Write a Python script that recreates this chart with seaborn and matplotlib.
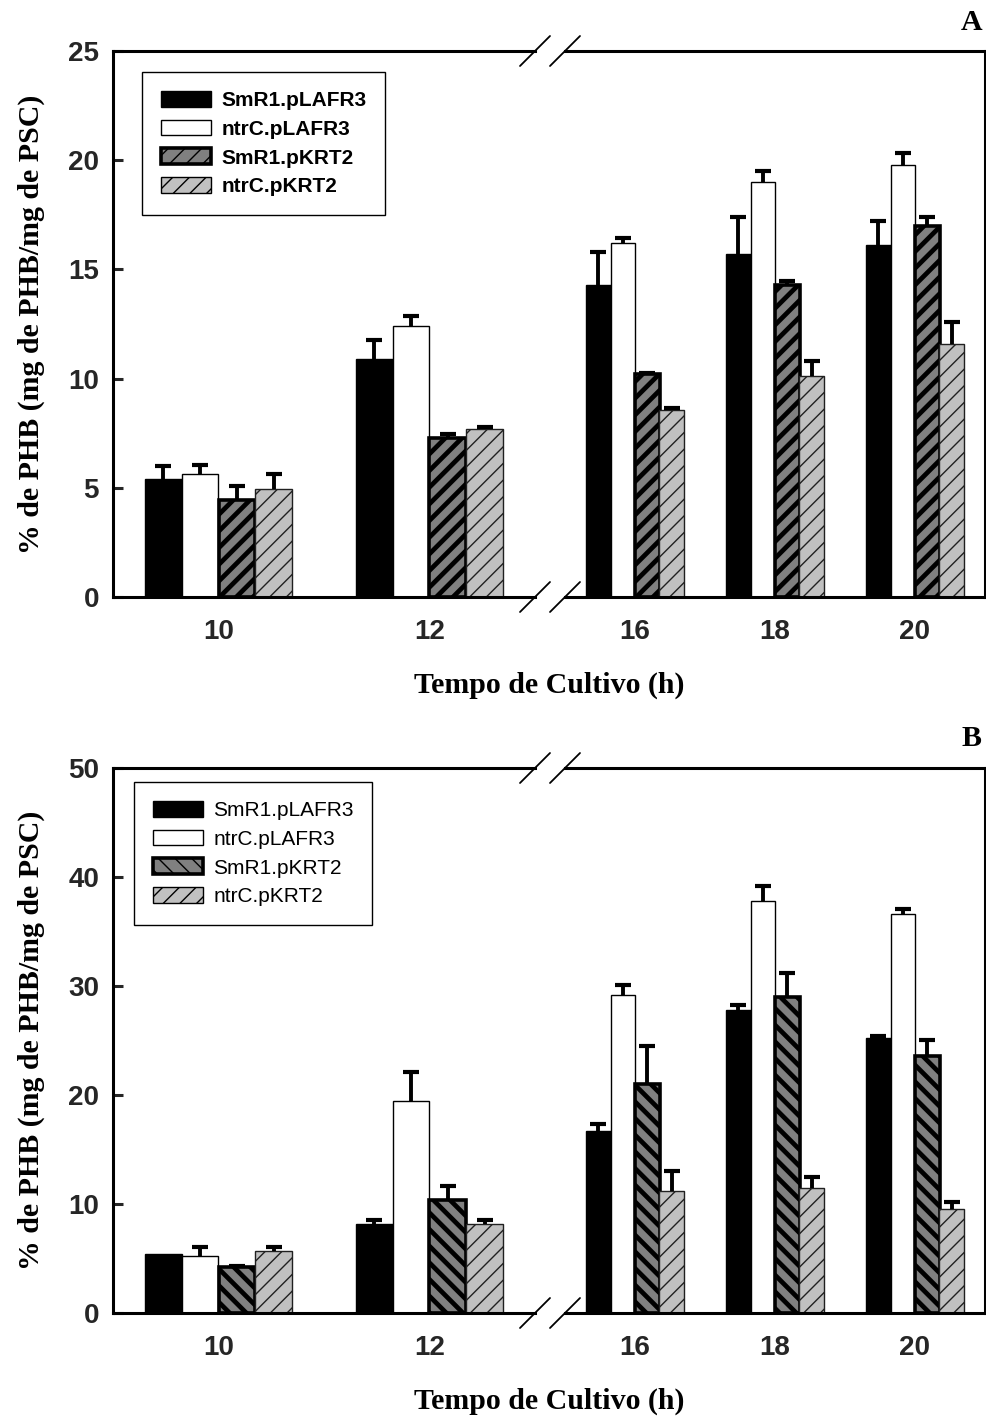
import numpy as np
import pandas as pd
import matplotlib
matplotlib.use("Agg")
import matplotlib.pyplot as plt
import seaborn as sns
from matplotlib.patches import Patch
from matplotlib.colors import to_rgba

sns.set_theme(style="white")
plt.rcParams['font.family'] = ['Liberation Sans', 'DejaVu Sans']
plt.rcParams['font.weight'] = 'bold'

# ---------------- data ----------------
times = [10, 12, 16, 18, 20]
left_times = [10, 12]
right_times = [16, 18, 20]
strains = ["SmR1.pLAFR3", "ntrC.pLAFR3", "SmR1.pKRT2", "ntrC.pKRT2"]

# Panel A
smr1_plafr3_A = [5.4, 10.9, 14.3, 15.7, 16.1]
ntrc_plafr3_A = [5.65, 12.4, 16.2, 19.0, 19.8]
smr1_pkrt2_A = [4.45, 7.3, 10.2, 14.3, 17.0]
ntrc_pkrt2_A = [4.95, 7.7, 8.55, 10.1, 11.6]
smr1_plafr3_A_err = [0.6, 0.85, 1.5, 1.7, 1.1]
ntrc_plafr3_A_err = [0.4, 0.45, 0.25, 0.5, 0.55]
smr1_pkrt2_A_err = [0.65, 0.15, 0.05, 0.15, 0.4]
ntrc_pkrt2_A_err = [0.7, 0.1, 0.1, 0.7, 1.0]

# Panel B
smr1_plafr3_B = [5.4, 8.2, 16.7, 27.8, 25.25]
ntrc_plafr3_B = [5.25, 19.45, 29.2, 37.8, 36.6]
smr1_pkrt2_B = [4.2, 10.35, 21.0, 29.0, 23.6]
ntrc_pkrt2_B = [5.7, 8.2, 11.2, 11.45, 9.55]
smr1_plafr3_B_err = [0.0, 0.35, 0.6, 0.45, 0.2]
ntrc_plafr3_B_err = [0.85, 2.65, 0.85, 1.35, 0.5]
smr1_pkrt2_B_err = [0.1, 1.3, 3.5, 2.2, 1.45]
ntrc_pkrt2_B_err = [0.35, 0.35, 1.85, 1.05, 0.65]

colors = ['#000000', '#ffffff', '#808080', '#c0c0c0']


def make_df(means, errs):
    rows = []
    for s, m, e in zip(strains, means, errs):
        for t, v, ev in zip(times, m, e):
            rows.append({'time': t, 'strain': s, 'mean': v, 'err': ev})
    return pd.DataFrame(rows)


dfA = make_df([smr1_plafr3_A, ntrc_plafr3_A, smr1_pkrt2_A, ntrc_pkrt2_A],
              [smr1_plafr3_A_err, ntrc_plafr3_A_err, smr1_pkrt2_A_err, ntrc_pkrt2_A_err])
dfB = make_df([smr1_plafr3_B, ntrc_plafr3_B, smr1_pkrt2_B, ntrc_pkrt2_B],
              [smr1_plafr3_B_err, ntrc_plafr3_B_err, smr1_pkrt2_B_err, ntrc_pkrt2_B_err])

W, H = 987, 1418
fig = plt.figure(figsize=(W / 100, H / 100), dpi=100)

SERIF = ['Liberation Serif', 'DejaVu Serif']
TICK_FS = 20
LAB_FS = 21.5
LEG_FS = 15


def style_patch(p, idx, dark_hatch):
    p.set_edgecolor('black')
    if idx in (0, 1):
        p.set_linewidth(1.0)
    elif idx == 2:
        p.set_hatch(dark_hatch * 2)
        p.set_linewidth(2.6)
        if hasattr(p, 'set_hatch_linewidth'):
            p.set_hatch_linewidth(3.4)
    else:
        p.set_hatch('//')
        p.set_linewidth(1.0)
        p.set_edgecolor('#202020')
        if hasattr(p, 'set_hatch_linewidth'):
            p.set_hatch_linewidth(1.0)


def draw_panel(df, bottom_px, top_px, ymax, ystep, dark_hatch, legend_weight, leg_anchor, letter):
    bottom = 1 - bottom_px / H
    height = (bottom_px - top_px) / H
    axL = fig.add_axes([113 / W, bottom, 422 / W, height])
    axR = fig.add_axes([565 / W, bottom, 420 / W, height], sharey=axL)
    rgba = [to_rgba(c) for c in colors]
    for ax, tset, xlim in ((axL, left_times, (9, 13)), (axR, right_times, (15, 21))):
        sub = df[df['time'].isin(tset)]
        sns.barplot(data=sub, x='time', y='mean', hue='strain', hue_order=strains,
                    palette=colors, native_scale=True, width=0.7, dodge=True,
                    saturation=1, errorbar=None, legend=False, ax=ax,
                    edgecolor='black', linewidth=1.0, zorder=2)
        for p in list(ax.patches):
            fc = np.array(p.get_facecolor())
            idx = int(np.argmin([np.sum(np.abs(fc - np.array(c))) for c in rgba]))
            style_patch(p, idx, dark_hatch)
            cx = p.get_x() + p.get_width() / 2
            t = min(tset, key=lambda v: abs(v - cx))
            row = sub[(sub['time'] == t) & (sub['strain'] == strains[idx])].iloc[0]
            if row['err'] > 0:
                _, caps, _ = ax.errorbar(cx, p.get_height(), yerr=[[0], [row['err']]],
                                         fmt='none', ecolor='black', elinewidth=2.8,
                                         capsize=5.5, capthick=3.0, zorder=3)
                # keep only the upper cap
                if len(caps) >= 2:
                    low = min(caps, key=lambda c: np.min(c.get_ydata()))
                    low.set_visible(False)
        ax.set_xlim(*xlim)
        ax.set_xticks(tset)
        ax.set_xticklabels([str(t) for t in tset])
        ax.set_xlabel('')
        ax.set_ylabel('')
        ax.tick_params(axis='x', length=0, pad=16, labelsize=TICK_FS)
        for sp in ax.spines.values():
            sp.set_color('black')
            sp.set_linewidth(2.2)
        ax.grid(False)
    axL.spines['right'].set_visible(False)
    axR.spines['left'].set_visible(False)
    axL.set_ylim(0, ymax)
    axL.set_yticks(np.arange(0, ymax + 0.1, ystep))
    axL.tick_params(axis='y', direction='in', length=7, width=2.2, pad=10,
                    labelsize=TICK_FS, left=True)
    axR.tick_params(axis='y', left=False, right=False, labelleft=False)
    for lbl in axL.get_yticklabels() + axL.get_xticklabels() + axR.get_xticklabels():
        lbl.set_fontweight('bold')

    axL.set_ylabel('% de PHB (mg de PHB/mg de PSC)', family=SERIF, fontsize=LAB_FS,
                   fontweight='bold', color='black')
    axL.yaxis.set_label_coords(-0.16, 0.5)

    # break marks
    ax_h_px = bottom_px - top_px
    dxL, dyL = 15 / 422, 15 / ax_h_px
    dxR = 15 / 420
    for yy in (0, 1):
        axL.plot([1 - dxL, 1 + dxL], [yy - dyL, yy + dyL], transform=axL.transAxes,
                 color='black', lw=1.3, clip_on=False)
        axR.plot([-dxR, dxR], [yy - dyL, yy + dyL], transform=axR.transAxes,
                 color='black', lw=1.3, clip_on=False)

    # legend
    hatches = [None, None, dark_hatch * 2, '//']
    lws = [1.0, 1.0, 2.6, 1.0]
    handles = []
    for c, h, lw in zip(colors, hatches, lws):
        hp = Patch(facecolor=c, edgecolor='black', hatch=h, linewidth=lw)
        handles.append(hp)
    leg = axL.legend(handles, strains, loc='upper left', bbox_to_anchor=leg_anchor,
                     borderaxespad=0, frameon=True, fancybox=False, framealpha=1,
                     edgecolor='black', handlelength=2.4, handleheight=0.8,
                     handletextpad=0.5, borderpad=0.9, labelspacing=0.46,
                     prop={'family': ['Liberation Sans'], 'size': LEG_FS, 'weight': legend_weight})
    leg.get_frame().set_linewidth(1.0)
    for t in leg.get_texts():
        t.set_color('black')

    # x label and panel letter
    fig.text(549 / W, 1 - (bottom_px + 88) / H, 'Tempo de Cultivo (h)', ha='center',
             va='center', family=SERIF, fontsize=LAB_FS, fontweight='bold', color='black')
    fig.text(972 / W, 1 - (top_px - 29) / H, letter, ha='center', va='center',
             family=SERIF, fontsize=LAB_FS, fontweight='bold', color='black')


draw_panel(dfA, 597, 51, 25, 5, '/', 'bold', (29 / 422, (597 - 72) / 546), 'A')
draw_panel(dfB, 1313, 768, 50, 10, '\\', 'normal', (21 / 422, (1313 - 782) / 545), 'B')

fig.savefig('out.png', dpi=100, facecolor='white')
